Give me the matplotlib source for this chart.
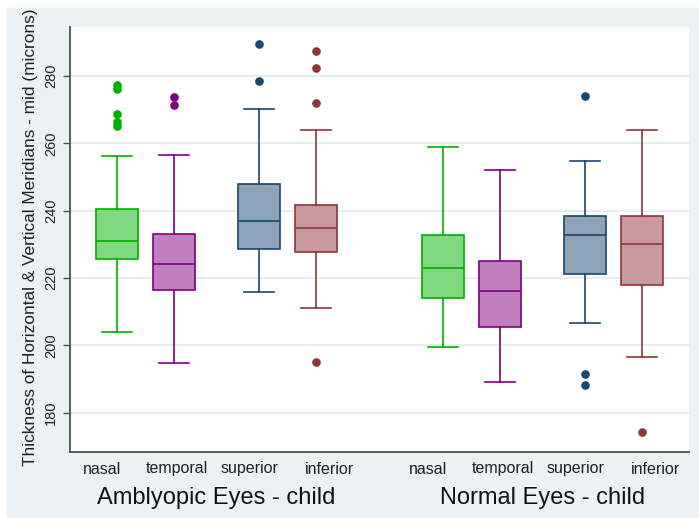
import matplotlib
matplotlib.use("Agg")
import matplotlib.pyplot as plt
import matplotlib.transforms as mtransforms
from matplotlib.patches import Rectangle
from matplotlib.colors import to_rgb

# ---- data -------------------------------------------------------------
categories = ["nasal", "temporal", "superior", "inferior"]
groups = ["Amblyopic Eyes - child", "Normal Eyes - child"]

amb_q1 = [225.7, 216.6, 228.5, 227.7]
amb_med = [231.1, 224.1, 236.8, 235.0]
amb_q3 = [240.6, 233.1, 248.0, 241.8]
amb_lo = [204.0, 194.9, 216.0, 211.2]
amb_hi = [256.1, 256.4, 270.1, 263.8]
amb_out = [[277.2, 276.2, 268.7, 266.4, 265.0],
           [273.6, 271.4],
           [289.4, 278.6],
           [287.4, 282.3, 272.0, 195.2]]

nor_q1 = [214.1, 205.4, 221.2, 218.0]
nor_med = [222.9, 216.1, 232.7, 230.1]
nor_q3 = [232.9, 225.0, 238.5, 238.3]
nor_lo = [199.5, 189.2, 206.7, 196.5]
nor_hi = [259.0, 252.2, 254.6, 263.8]
nor_out = [[], [], [274.1, 191.5, 188.2], [174.3]]

y_ticks = [180, 200, 220, 240, 260, 280]
y_title = "Thickness of Horizontal & Vertical Meridians - mid (microns)"

# ---- style ------------------------------------------------------------
edge_colors = ["#00B000", "#800080", "#1A476F", "#90353B"]
bg_color = "#EAF2F3"
grid_color = "#E6EEF0"
axis_color = "#505050"
font = "Liberation Sans"


def lighten(c, f=0.5):
    r, g, b = to_rgb(c)
    return (r + (1 - r) * f, g + (1 - g) * f, b + (1 - b) * f)


within = [0.0, 1.0, 2.49, 3.49]      # box slots inside a group
group_shift = 5.72                    # distance between the two groups
label_shift = [-0.26, 0.05, -0.16, 0.24]

W, H = 699, 518
fig = plt.figure(figsize=(W / 100, H / 100), dpi=100, facecolor="white")
fig.patches.append(Rectangle((7 / W, 0), (W - 7) / W, (H - 8) / H,
                             transform=fig.transFigure, color=bg_color,
                             zorder=-10))

ax = fig.add_axes([70 / W, 66 / H, 619 / W, 425 / H])
ax.set_facecolor("white")

group_data = [
    (amb_q1, amb_med, amb_q3, amb_lo, amb_hi, amb_out),
    (nor_q1, nor_med, nor_q3, nor_lo, nor_hi, nor_out),
]

for g, (q1, med, q3, lo, hi, out) in enumerate(group_data):
    for i in range(len(categories)):
        pos = within[i] + g * group_shift
        stats = [dict(q1=q1[i], med=med[i], q3=q3[i],
                      whislo=lo[i], whishi=hi[i], fliers=out[i])]
        col = edge_colors[i]
        ax.bxp(stats, positions=[pos], widths=0.74, patch_artist=True,
               showfliers=True, manage_ticks=False,
               boxprops=dict(facecolor=lighten(col), edgecolor=col,
                             linewidth=1.2),
               medianprops=dict(color=col, linewidth=1.2),
               whiskerprops=dict(color=col, linewidth=1.2),
               capprops=dict(color=col, linewidth=1.2),
               capwidths=0.52,
               flierprops=dict(marker="o", markerfacecolor=col,
                               markeredgecolor=col, markersize=5.2,
                               linestyle="none"))

ax.set_xlim(-0.825, 10.035)
ax.set_ylim(168.4, 294.5)
ax.set_xticks([])
ax.set_yticks(y_ticks)
ax.set_yticklabels([str(t) for t in y_ticks], rotation=90, va="center",
                   fontsize=10.5, family=font, color="#202020")
ax.tick_params(axis="y", length=5, width=1.0, color=axis_color, pad=3.5)
ax.yaxis.grid(True, color=grid_color, linewidth=1.4)
ax.set_axisbelow(True)

for s in ["top", "right"]:
    ax.spines[s].set_visible(False)
for s in ["left", "bottom"]:
    ax.spines[s].set_color(axis_color)
    ax.spines[s].set_linewidth(1.3)

# category and group labels under the axis
trans = mtransforms.blended_transform_factory(ax.transData, ax.transAxes)
for g, gname in enumerate(groups):
    for i, cat in enumerate(categories):
        ax.text(within[i] + g * group_shift + label_shift[i], -0.04, cat,
                transform=trans, ha="center", va="center",
                fontsize=11.5, family=font, color="#202020")
    centre = g * group_shift + (within[0] + within[-1]) / 2
    ax.text(centre, -0.108, gname, transform=trans, ha="center",
            va="center", fontsize=17, family=font, color="#111111")

fig.text(31 / W, (H - 466) / H, y_title, rotation=90, ha="center",
         va="bottom", fontsize=12.4, family=font, color="#202020")

fig.savefig("out.png", dpi=100, facecolor=fig.get_facecolor())
